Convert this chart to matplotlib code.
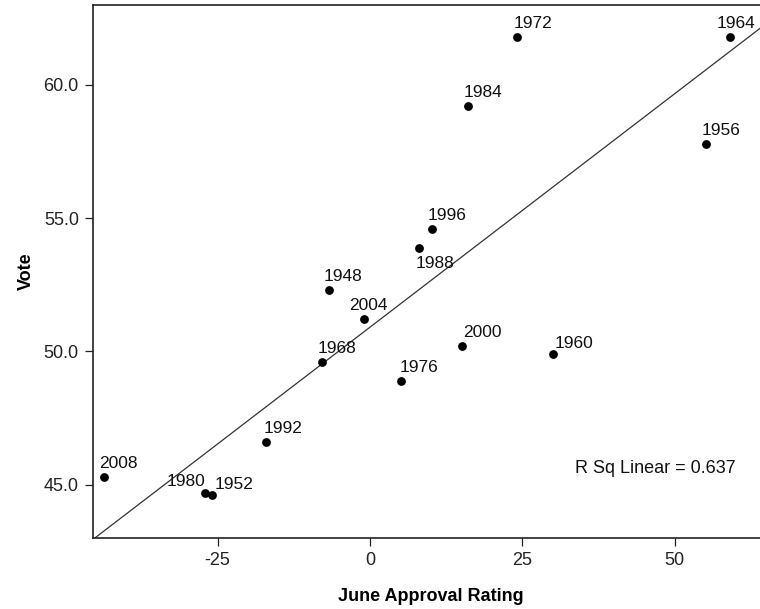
import numpy as np
import matplotlib
matplotlib.use("Agg")
import matplotlib.pyplot as plt

plt.rcParams['font.family'] = ['Liberation Sans', 'DejaVu Sans']

# Data
years = ["1972", "1964", "1984", "1956", "1996", "1988", "1948", "2004",
         "1968", "1992", "2008", "1980", "1952", "2000", "1960", "1976"]
approval = [24.1, 59.1, 16.1, 55.1, 10.1, 8.1, -6.8, -0.9,
            -7.9, -17.0, -43.7, -27.0, -25.9, 15.1, 30.0, 5.1]
vote = [61.8, 61.8, 59.2, 57.8, 54.6, 53.9, 52.3, 51.2,
        49.6, 46.6, 45.3, 44.7, 44.6, 50.2, 49.9, 48.9]
x_ticks = [-25, 0, 25, 50]
y_ticks = [45.0, 50.0, 55.0, 60.0]
fit_intercept = 50.91
fit_slope = 0.1752
r2_label = "R Sq Linear = 0.637"

# label offsets in pixels (style)
offsets = {
    "1972": (-3, 9, 'left'), "1964": (-13, 9, 'left'), "1984": (-4, 9, 'left'),
    "1956": (-4, 9, 'left'), "1996": (-4, 9, 'left'), "1988": (-4, -20, 'left'),
    "1948": (-5, 9, 'left'), "2004": (-15, 9, 'left'), "1968": (-4, 9, 'left'),
    "1992": (-3, 9, 'left'), "2008": (-5, 9, 'left'), "1980": (0, 7, 'right'),
    "1952": (2, 6, 'left'), "2000": (1, 9, 'left'), "1960": (2, 6, 'left'),
    "1976": (-1, 9, 'left'),
}

fig = plt.figure(figsize=(7.6, 6.09), dpi=100)
ax = fig.add_axes([0.122, 0.1166, 0.890, 0.8752])

xlim = (-45.5, 65.5)
ylim = (43.0, 63.0)

# fit line
xs = np.array([-45.2, 70.0])
ax.plot(xs, fit_intercept + fit_slope * xs, color='#333333', lw=0.9, zorder=1)

ax.scatter(approval, vote, s=40, color='black', zorder=3, linewidths=0)

for yr, xv, yv in zip(years, approval, vote):
    dx, dy, ha = offsets[yr]
    ax.annotate(yr, (xv, yv), xytext=(dx, dy), textcoords='offset pixels',
                ha=ha, va='baseline', fontsize=12.5, color='#111111')

ax.text(575 / 760, (609 - 473.3) / 609, r2_label, transform=fig.transFigure,
        fontsize=13, color='#111111', ha='left', va='baseline')

ax.set_xlim(*xlim)
ax.set_ylim(*ylim)
ax.set_xticks(x_ticks)
ax.set_xticklabels([str(t) for t in x_ticks])
ax.set_yticks(y_ticks)
ax.set_yticklabels([f"{t:.1f}" for t in y_ticks])

ax.spines['right'].set_visible(False)
for s in ['left', 'bottom', 'top']:
    ax.spines[s].set_linewidth(1.2)
    ax.spines[s].set_color('#222222')

ax.tick_params(axis='both', direction='out', length=6, width=0.9,
               labelsize=13, colors='#222222', labelcolor='#222222', pad=4)

ax.set_xlabel("June Approval Rating", fontsize=13, fontweight='bold', labelpad=14)
ax.set_ylabel("Vote", fontsize=13, fontweight='bold', labelpad=6)

fig.savefig("out.png", dpi=100)
